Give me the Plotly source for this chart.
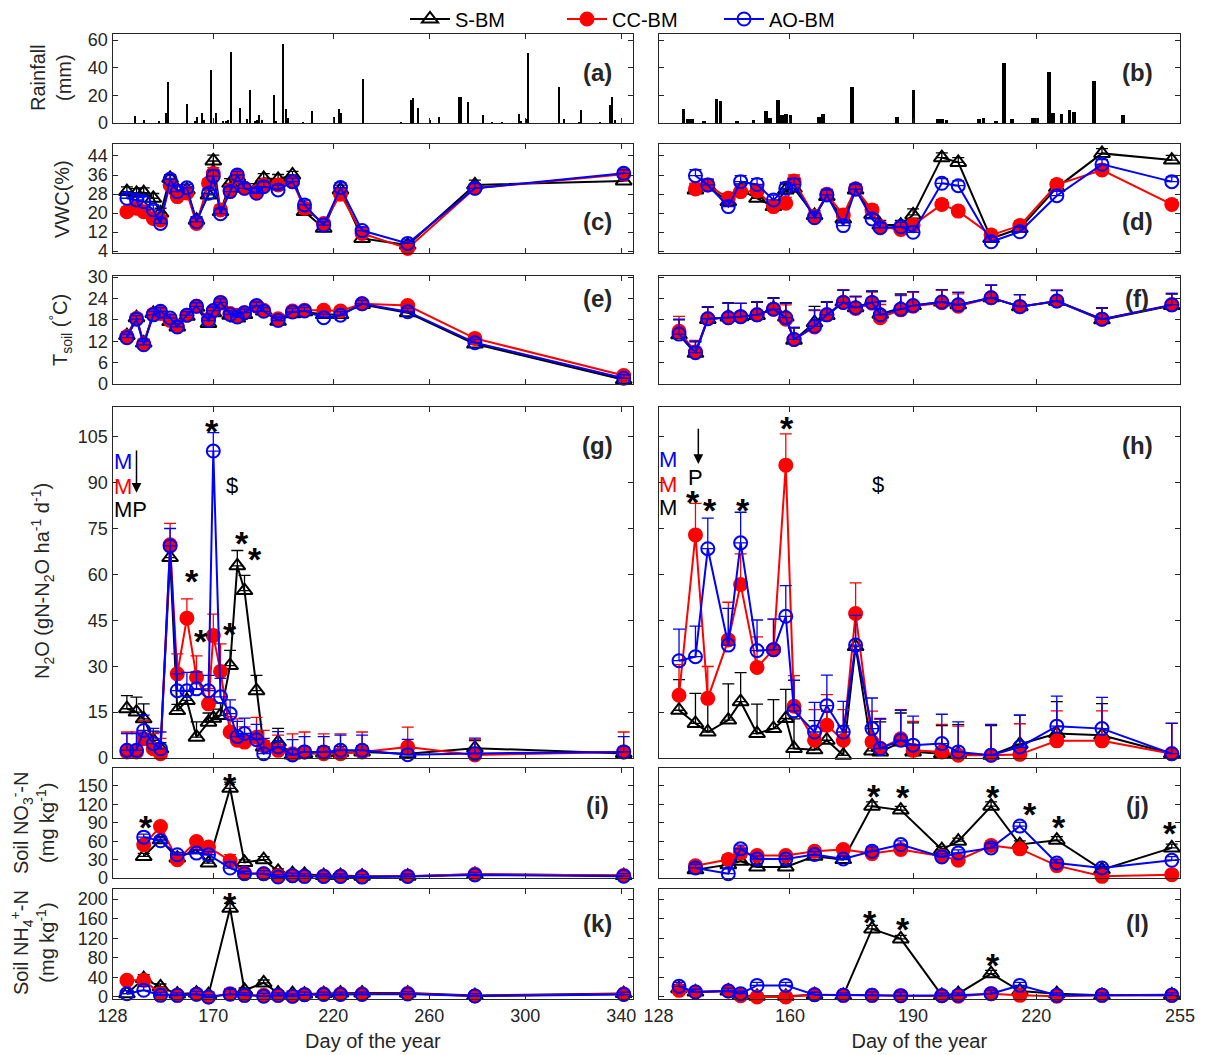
import plotly.graph_objects as go
from plotly.subplots import make_subplots

FONT = "Liberation Sans, Arial, sans-serif"
AX = "#262626"
W, H = 1206, 1055

# ---------------- data ----------------
# rainfall (mm)
rain_left_day = [137, 141, 147, 150, 151, 159, 162, 163, 165, 166, 169, 171, 174, 175, 176, 177, 181, 184, 185,
                 187, 188, 189, 190, 195, 196, 199, 200, 201, 207, 211, 220, 222, 223, 232, 248, 252, 253, 255,
                 260, 264, 272, 273, 276, 282, 286, 290, 297, 298, 300, 301, 314, 316, 322, 323, 331, 335, 336, 337]
rain_left_mm = [5, 2, 1, 7, 30, 14, 1.5, 4, 7, 2.5, 38, 7, 1.5, 1.5, 2, 51.5, 11, 3, 24,
                1.5, 2.5, 5.5, 2.5, 20.6, 1.5, 57, 10.4, 3.3, 0.7, 8.5, 4, 10.4, 7.3, 31.5, 0.7, 17, 18.4, 11.2,
                2, 4.4, 19, 19, 15.5, 5.6, 0.7, 0.5, 6.3, 1.5, 3.2, 50.4, 25.7, 3.2, 0.7, 9.2, 0.7, 12.8, 19, 2]
rain_right_day = [134, 135, 136, 139, 142, 143, 147, 151, 154, 155, 157, 158, 159, 160, 167, 168, 175, 186, 190,
                  196, 197, 198, 206, 207, 210, 212, 214, 219, 220, 223, 224, 226, 228, 229, 234, 241]
rain_right_mm = [10, 3.2, 3.2, 1.5, 17.2, 15.8, 1.2, 2.4, 8.5, 3.6, 16.5, 5.6, 6.8, 6, 4.4, 6.3, 25.7, 4.4, 23.8,
                 3.2, 2.7, 2.2, 2.7, 3.6, 1.5, 43.2, 3.2, 3.9, 3.9, 37, 7.3, 6.8, 9.2, 8, 30.5, 5.6]

# left column (first season) sampling days
dayL = [134, 138, 141, 145, 148, 152, 155, 159, 163, 168, 170, 173, 177, 180, 183, 188, 191, 197, 203, 208,
        216, 223, 232, 251, 279, 341]
vwcL_S = [29, 28.3, 28.6, 26.2, 20, 34.6, 29.7, 29.7, 17, 27.6, 41.9, 20.6, 32.5, 35.2, 30.4, 30.4, 34.6, 34.2,
          36, 20.6, 13.6, 29.7, 9.3, 6.5, 31.8, 33.5]
vwcL_C = [20.5, 22, 20.5, 17.7, 17, 31.8, 26.9, 28.4, 15.6, 32.5, 36.6, 21.3, 29.7, 35.2, 30.4, 29, 31.8, 31.8,
          33.2, 22, 15.6, 27.9, 11.4, 5.1, 30.4, 36.3]
vwcL_A = [26.2, 25.5, 24.8, 21.3, 15.6, 34.2, 29, 30.6, 16.3, 28.3, 35.5, 19.7, 29, 36, 30.4, 28.3, 31.1, 29.7,
          33.2, 23.4, 14.9, 30.7, 12.6, 7.2, 30.4, 36.7]
vwcL_err = [2, 2, 2, 2, 2, 1.5, 2, 1.5, 1.5, 2, 2.5, 2, 2, 1.5, 2, 2, 2, 2, 1.5, 2, 1.5, 2, 1.5, 1.5, 2, 1.5]

tsL_S = [13.6, 18.6, 11.5, 19.8, 20, 17.5, 16, 19, 21.5, 17, 20, 22.2, 19.3, 18.5, 19.5, 21.5, 20.5, 17.6, 19.7,
         20.3, 19.5, 19.5, 22.3, 20, 11.2, 1.2]
tsL_C = [13.3, 18.4, 11.3, 19.6, 19.8, 17.8, 16.2, 19.3, 21.8, 18.2, 20.5, 22.7, 19.8, 19.3, 20, 21.8, 20.7, 18.3,
         20.5, 20.7, 20.7, 20.5, 22.5, 22, 12.8, 2.4]
tsL_A = [13, 18.2, 11, 19.4, 20.4, 18.5, 16, 19.3, 21.8, 17.8, 20.6, 22.9, 19.5, 18.8, 20, 22, 20.4, 17.8, 20.2,
         20.5, 18.6, 19.3, 22.5, 20.3, 11.6, 1.6]
tsL_err = [1, 1, 1, 1, 1, 1, 1, 1, 1, 1, 1, 1, 1, 1, 1, 1, 1, 1, 1, 1, 1, 1, 1, 1, 1, 1]

n2oL_S = [16.1, 15, 12.8, 5.8, 3, 65.5, 15.5, 18.8, 6.8, 11.7, 13, 13.9, 30.2, 62.8, 54.7, 22, 3.6, 5.2, 1, 1.4,
          1.6, 1.8, 2, 1.4, 3.2, 1.5]
n2oL_C = [2, 2, 6.3, 3, 1.4, 69.7, 27.5, 45.7, 26.4, 17.7, 40, 28.3, 8.5, 5.8, 5.2, 6.8, 4, 2.5, 1.4, 2, 1.4,
          1.4, 2, 3.6, 1, 2]
n2oL_A = [2.5, 2.5, 9, 4.7, 3, 69.3, 22, 22, 22.6, 22, 100.3, 20, 14.5, 7, 8, 6, 1.4, 3.6, 1, 2, 2, 2.5, 2.5,
          1.1, 1.5, 2]
n2oL_S_err = [4.3, 4.9, 4.9, 3, 2, 3, 2, 3, 5, 3, 3, 4, 5, 5, 5, 5, 2, 4.5, 2, 2, 2, 2, 2, 2, 2.5, 2]
n2oL_C_err = [6.5, 6.5, 6, 5, 5, 7, 6.5, 6.3, 7, 5, 7, 9, 5, 7, 5, 6.5, 5, 5, 6.5, 6.5, 6.5, 6.5, 6.5, 6.5, 5, 6.5]
n2oL_A_err = [5.5, 5.5, 5, 5, 5.5, 5.7, 5.5, 6, 5.5, 5, 6, 6, 4.5, 5, 5, 5, 5, 5, 5, 5, 5, 5, 5, 5, 5, 5]

dayL_no3 = [141, 148, 155, 163, 168, 177, 183, 191, 197, 203, 208, 216, 223, 232, 251, 279, 341]
no3L_S = [35.2, 62.3, 32.5, 46, 24.4, 146.2, 25.4, 29.8, 10.8, 7, 6, 4, 4, 3, 3, 6, 4]
no3L_C = [54.1, 84, 29.8, 59.6, 50.4, 28.2, 8.1, 7, 3.8, 3.8, 2.7, 3, 3, 2, 3, 6, 4]
no3L_A = [66.6, 60.6, 37.9, 40.6, 37.9, 16.2, 7, 7, 1.6, 3.8, 2.7, 2.5, 2.5, 1.5, 2.5, 5, 3]
no3L_err = [5, 5, 4, 5, 5, 10, 4, 5, 4, 4, 4, 4, 4, 4, 4, 4, 4]

dayL_nh4 = [134, 141, 148, 155, 163, 168, 177, 183, 191, 197, 203, 208, 216, 223, 232, 251, 279, 341]
nh4L_S = [6.8, 37.5, 20.5, 6, 8, 4.8, 181, 13.7, 28.7, 8, 6.8, 6, 7, 8, 8, 8, 3, 7]
nh4L_C = [34, 34, 6.8, 3.4, 5.5, 0, 6.8, 3.4, 3.4, 3.4, 1.4, 4.8, 6, 6, 6, 7, 2, 6]
nh4L_A = [6.8, 13.7, 3.4, 3.4, 5.5, 0, 5.5, 3.4, 1.4, 3.4, 1.4, 4.8, 5, 5, 5, 6, 2, 5]
nh4L_err = [6, 8, 6, 5, 6, 5, 10, 5, 6, 5, 5, 5, 5, 5, 5, 5, 5, 5]

# right column (second season)
dayR = [133, 137, 140, 145, 148, 152, 156, 159, 161, 166, 169, 173, 176, 180, 182, 187, 190, 197, 201, 209,
        216, 225, 236, 253]
tsR_S = [13.8, 8.6, 18.1, 18.8, 18.9, 19.2, 21.2, 18.8, 12.3, 17.2, 19.2, 23, 21.4, 23, 19.6, 21.3, 22, 23,
         22.2, 24.2, 21.7, 23.2, 18, 22]
tsR_C = [14.8, 9, 18.3, 18.6, 18.9, 19.4, 21, 18.2, 12.5, 16, 19.4, 22.9, 21.2, 22.7, 18.6, 20.8, 21.8, 22.8,
         21.8, 24.2, 21.7, 23.3, 18.2, 22.2]
tsR_A = [14, 8.8, 18.3, 18.6, 18.9, 19.4, 21, 18.6, 12.5, 16.2, 19.4, 22.9, 21.4, 22.9, 19.4, 21, 22, 23, 22.2,
         24.2, 21.7, 23.3, 18.2, 22.2]
tsR_err = [4.2, 3.2, 3.4, 4, 3.7, 3.7, 3, 4, 3.4, 4.6, 3.7, 3.4, 3.2, 3.1, 3.7, 4, 3.9, 3.5, 3.5, 3.5, 3.4, 3,
           3.2, 3.2]

dayR_vwc = [137, 140, 145, 148, 152, 156, 159, 161, 166, 169, 173, 176, 180, 182, 187, 190, 197, 201, 209, 216,
            225, 236, 253]
vwcR_S = [29.7, 31.1, 24.8, 29.7, 26.2, 22.7, 29.7, 30.4, 19, 26.9, 17.5, 29.7, 19.4, 14.9, 14.9, 19.2, 43.3,
          41.3, 9.3, 13.5, 30.7, 45.1, 42.3]
vwcR_C = [30.1, 31.8, 26.2, 29, 29.3, 22.7, 24.1, 33.5, 18.5, 27.9, 19.2, 30.2, 21.3, 14.2, 13.1, 14.9, 23.6,
          20.8, 10.7, 14.7, 32, 38.1, 23.6]
vwcR_A = [35.7, 31.8, 22.7, 33.2, 32, 25.5, 30.4, 32, 18, 27.6, 14.7, 30, 17.5, 13.8, 14.2, 11.9, 32.5, 31.5,
          7.9, 12.1, 27.3, 40.5, 33.2]
vwcR_err = [2.5, 2.5, 2, 2.5, 2.5, 2, 2.5, 2.5, 2, 2, 2, 2, 2, 2, 2, 2.5, 2, 2, 2, 2, 2, 2, 2]

n2oR_S = [15.6, 11.3, 8.5, 12.4, 18.4, 8.0, 9.6, 12.9, 3.1, 2.7, 5.8, 0.9, 36.4, 2.3, 2.0, 5.2, 2.0, 1.4, 1.4,
          0.9, 4.5, 8, 7.4, 1.4]
n2oR_C = [20.5, 72.9, 19.5, 38.6, 56.7, 29.6, 35.4, 95.7, 16.9, 5.8, 10.7, 5.8, 47.2, 5.3, 3.1, 6.3, 2.5, 2, 0.9,
          0.9, 1.2, 5.6, 5.6, 1.4]
n2oR_A = [31.8, 33.1, 68.4, 36.9, 70.3, 35.1, 35.4, 46.3, 15.4, 8.5, 17.1, 8.5, 36.9, 9.6, 3.1, 5.8, 4.2, 4.7, 2,
          0.9, 3.6, 10.4, 9.6, 1.4]
n2oR_S_err = [10, 9.8, 10, 11.8, 9.5, 9.6, 9.5, 9.5, 9.7, 9.5, 9.5, 9.6, 9.5, 9.5, 9.8, 9.5, 9.5, 9.2, 9.5, 9.7,
              9.5, 10.4, 10.4, 9.9]
n2oR_C_err = [10, 10.3, 10.4, 12.3, 10, 10, 10, 10.2, 10, 10, 10, 10, 10, 10, 9.5, 9.5, 9.5, 9, 9.5, 10, 10, 9.8,
              9.8, 9.9]
n2oR_A_err = [10.3, 10, 10, 12, 10, 10, 10, 10, 10, 9.7, 10, 10, 9.7, 10, 9.8, 9.8, 9.5, 9.6, 9.8, 10.1, 10.4,
              9.8, 10.2, 9.9]

dayR_no3 = [137, 145, 148, 152, 159, 166, 173, 180, 187, 197, 201, 209, 216, 225, 236, 253]
no3R_S = [13.6, 21.8, 27.3, 18, 18, 35.5, 30, 117, 110.7, 46.4, 60, 117, 54.5, 61.6, 13.6, 49.1]
no3R_C = [20, 30, 41, 36.5, 36.5, 43.6, 46.4, 39.8, 46.4, 35.5, 28.9, 52.9, 47.5, 20.2, 2.7, 5.5]
no3R_A = [16.4, 7, 47.5, 31, 31, 38.2, 31, 43.6, 54.5, 34.4, 40.9, 49.1, 84.6, 24.5, 16.4, 28.9]
no3R_err = [6, 8, 6, 5, 5, 5, 5, 7, 6, 5, 5, 7, 6, 6, 5, 6]

dayR_nh4 = [133, 137, 145, 148, 152, 159, 166, 173, 180, 187, 197, 201, 209, 216, 225, 236, 253]
nh4R_S = [17, 10.2, 12.2, 3.4, 1.4, 1.4, 4.7, 3.4, 139, 118.6, 3.4, 6.8, 47.5, 12.2, 6.8, 3.4, 4.5]
nh4R_C = [13.6, 10.2, 12.2, 2.7, 0, 0, 4.7, 3.4, 3.4, 2.7, 2.7, 1.4, 6.8, 3.4, 1.4, 3.4, 3.4]
nh4R_A = [21.7, 10.2, 12.2, 6.8, 23.7, 23.7, 4.7, 3.4, 3.4, 2.7, 2.7, 3.4, 6.8, 23.7, 3.4, 3.4, 3.4]
nh4R_err = [8, 6, 6, 5, 6, 6, 5, 5, 7, 7, 5, 5, 7, 6, 5, 5, 5]

series_names = ["S-BM", "CC-BM", "AO-BM"]
left_ticks = [128, 170, 220, 260, 300, 340]
right_ticks = [128, 160, 190, 220, 255]

# ---------------- figure ----------------
fig = make_subplots(rows=6, cols=2)

STYLE = {
    "S-BM": dict(color="black", symbol="triangle-up-open", size=14),
    "CC-BM": dict(color="#ff0000", symbol="circle", size=13),
    "AO-BM": dict(color="#0000ff", symbol="circle-open", size=13),
}


def add_series(row, col, x, ys, errs, legend=False):
    for name, y, e in zip(series_names, ys, errs):
        st = STYLE[name]
        fig.add_trace(go.Scatter(
            x=x, y=y, mode="lines+markers", name=name, legendgroup=name, showlegend=legend,
            line=dict(color=st["color"], width=2),
            marker=dict(symbol=st["symbol"], size=st["size"], color=st["color"],
                        line=dict(color=st["color"], width=2)),
            error_y=dict(type="data", symmetric=False, array=e, arrayminus=[0] * len(e),
                         color=st["color"], thickness=1.3, width=6),
            cliponaxis=False,
        ), row=row, col=col)


fig.add_trace(go.Bar(x=rain_left_day, y=rain_left_mm, width=0.9, marker=dict(color="black", line=dict(width=0)),
                     showlegend=False), row=1, col=1)
fig.add_trace(go.Bar(x=rain_right_day, y=rain_right_mm, width=0.9, marker=dict(color="black", line=dict(width=0)),
                     showlegend=False), row=1, col=2)

add_series(2, 1, dayL, [vwcL_S, vwcL_C, vwcL_A], [vwcL_err, vwcL_err, vwcL_err], legend=True)
add_series(2, 2, dayR_vwc, [vwcR_S, vwcR_C, vwcR_A], [vwcR_err, vwcR_err, vwcR_err])
add_series(3, 1, dayL, [tsL_S, tsL_C, tsL_A], [tsL_err, tsL_err, tsL_err])
add_series(3, 2, dayR, [tsR_S, tsR_C, tsR_A], [tsR_err, tsR_err, tsR_err])
add_series(4, 1, dayL, [n2oL_S, n2oL_C, n2oL_A], [n2oL_S_err, n2oL_C_err, n2oL_A_err])
add_series(4, 2, dayR, [n2oR_S, n2oR_C, n2oR_A], [n2oR_S_err, n2oR_C_err, n2oR_A_err])
add_series(5, 1, dayL_no3, [no3L_S, no3L_C, no3L_A], [no3L_err, no3L_err, no3L_err])
add_series(5, 2, dayR_no3, [no3R_S, no3R_C, no3R_A], [no3R_err, no3R_err, no3R_err])
add_series(6, 1, dayL_nh4, [nh4L_S, nh4L_C, nh4L_A], [nh4L_err, nh4L_err, nh4L_err])
add_series(6, 2, dayR_nh4, [nh4R_S, nh4R_C, nh4R_A], [nh4R_err, nh4R_err, nh4R_err])

rows_px = [(34, 123), (144, 253), (276, 384), (407, 758), (768, 878), (889, 999)]
x_px = {1: (112.5, 633.3), 2: (658.5, 1180)}
y_ranges = [[0, 64.4], [3.16, 49.05], [0, 30.3], [0, 114.7], [0, 179.3], [-4.1, 220.4]]
y_ticks = [[0, 20, 40, 60], [4, 12, 20, 28, 36, 44], [0, 6, 12, 18, 24, 30],
           [0, 15, 30, 45, 60, 75, 90, 105], [0, 30, 60, 90, 120, 150], [0, 40, 80, 120, 160, 200]]
x_ranges = {1: [128, 345], 2: [128, 255]}
x_ticks = {1: left_ticks, 2: right_ticks}

common = dict(showline=True, linecolor=AX, linewidth=1, mirror="ticks", ticks="inside", ticklen=5,
              tickcolor=AX, tickwidth=1, showgrid=False, zeroline=False, automargin=False,
              tickfont=dict(family=FONT, size=18, color=AX))
lay = {}
for r in range(1, 7):
    for c in (1, 2):
        n = (r - 1) * 2 + c
        xk = "xaxis" if n == 1 else f"xaxis{n}"
        yk = "yaxis" if n == 1 else f"yaxis{n}"
        t, b = rows_px[r - 1]
        l, rr = x_px[c]
        lay[xk] = dict(common, domain=[l / W, rr / W], range=x_ranges[c], tickmode="array",
                       tickvals=x_ticks[c], ticktext=[str(v) for v in x_ticks[c]],
                       showticklabels=(r == 6))
        lay[yk] = dict(common, domain=[1 - b / H, 1 - t / H], range=y_ranges[r - 1], tickmode="array",
                       tickvals=y_ticks[r - 1], ticktext=[str(v) for v in y_ticks[r - 1]],
                       showticklabels=(c == 1))
        if r == 6:
            lay[xk]["title"] = dict(text="Day of the year", font=dict(family=FONT, size=20, color=AX), standoff=9)
fig.update_layout(**lay)

ann = []


def text(xref, yref, x, y, s, size=20, color="black", bold=False, yshift=0, xanchor="center"):
    ann.append(dict(xref=xref, yref=yref, x=x, y=y, text=(f"<b>{s}</b>" if bold else s), showarrow=False,
                    font=dict(family=FONT, size=size, color=color), xanchor=xanchor, yanchor="middle",
                    yshift=yshift))


def ytitle(xpx, ypx, s):
    ann.append(dict(xref="paper", yref="paper", x=xpx / W, y=1 - ypx / H, text=s, showarrow=False,
                    textangle=-90, font=dict(family=FONT, size=20, color=AX), xanchor="center",
                    yanchor="middle"))


ytitle(51, 78, "Rainfall<br>(mm)")
ytitle(62, 199, "VWC(%)")
ytitle(60, 330, "T<sub>soil</sub> (<sup>°</sup>C)")
ytitle(42, 581, "N<sub>2</sub>O (gN-N<sub>2</sub>O ha<sup>-1</sup> d<sup>-1</sup>)")
ytitle(32, 823, "Soil NO<sub>3</sub><sup>-</sup>-N<br>(mg kg<sup>-1</sup>)")
ytitle(32, 943, "Soil NH<sub>4</sub><sup>+</sup>-N<br>(mg kg<sup>-1</sup>)")

labels = ["(a)", "(b)", "(c)", "(d)", "(e)", "(f)", "(g)", "(h)", "(i)", "(j)", "(k)", "(l)"]
label_y = [72, 72, 221, 221, 298, 298, 445, 445, 805, 805, 923, 923]
for i, lab in enumerate(labels):
    xc = 597 if i % 2 == 0 else 1137
    ann.append(dict(xref="paper", yref="paper", x=xc / W, y=1 - label_y[i] / H, text=f"<b>{lab}</b>",
                    showarrow=False, font=dict(family=FONT, size=24, color=AX), xanchor="center",
                    yanchor="middle"))

STAR = 34
STAR_SHIFT = -8
# (g)
for (xx, yy) in [(169.3, 109.4), (161, 60.6), (164.9, 41), (177, 43.2), (181.9, 72.9), (187.3, 67.7)]:
    text("x7", "y7", xx, yy, "*", size=STAR, yshift=STAR_SHIFT, bold=True)
text("x7", "y7", 177.7, 88.9, "$", size=22)
text("x7", "y7", 132.2, 97, "M", size=22, color="#0000ff")
text("x7", "y7", 132.2, 88.8, "M", size=22, color="#ff0000")
text("x7", "y7", 135.3, 81.2, "MP", size=22, color="black")
ann.append(dict(xref="x7", yref="y7", axref="x7", ayref="y7", x=138, y=86.7, ax=138, ay=101, text="",
                showarrow=True, arrowhead=2, arrowsize=1.3, arrowwidth=1.5, arrowcolor="black"))
# (h)
for (xx, yy) in [(136.5, 86.2), (140.5, 83.5), (148.5, 83.5), (159.3, 110.3)]:
    text("x8", "y8", xx, yy, "*", size=STAR, yshift=STAR_SHIFT, bold=True)
text("x8", "y8", 181.5, 89.5, "$", size=22)
text("x8", "y8", 130.4, 97.7, "M", size=22, color="#0000ff")
text("x8", "y8", 130.4, 89.5, "M", size=22, color="#ff0000")
text("x8", "y8", 130.4, 81.8, "M", size=22, color="black")
text("x8", "y8", 137.1, 91.7, "P", size=22, color="black")
ann.append(dict(xref="x8", yref="y8", axref="x8", ayref="y8", x=137.7, y=96.1, ax=137.7, ay=108.1, text="",
                showarrow=True, arrowhead=2, arrowsize=1.3, arrowwidth=1.5, arrowcolor="black"))
# (i)
for (xx, yy) in [(141.8, 95.7), (177, 165)]:
    text("x9", "y9", xx, yy, "*", size=STAR, yshift=STAR_SHIFT, bold=True)
# (j)
for (xx, yy) in [(180.5, 147), (187.6, 145.7), (209.5, 145.7), (218.5, 117), (225.5, 95.5), (252.6, 85.6)]:
    text("x10", "y10", xx, yy, "*", size=STAR, yshift=STAR_SHIFT, bold=True)
# (k)
text("x11", "y11", 177, 206, "*", size=STAR, yshift=STAR_SHIFT, bold=True)
# (l)
for (xx, yy) in [(179.6, 169.5), (187.6, 156), (209.5, 81.4)]:
    text("x12", "y12", xx, yy, "*", size=STAR, yshift=STAR_SHIFT, bold=True)

fig.update_layout(
    annotations=ann,
    width=W, height=H,
    margin=dict(l=0, r=0, t=0, b=0, autoexpand=False),
    paper_bgcolor="white", plot_bgcolor="white",
    font=dict(family=FONT, size=18, color=AX),
    showlegend=True,
    legend=dict(orientation="h", x=405 / W, xanchor="left", y=1 - 19 / H, yanchor="middle",
                font=dict(family=FONT, size=20, color="black"), entrywidth=102, entrywidthmode="pixels",
                bgcolor="rgba(0,0,0,0)", itemwidth=40),
    bargap=0,
)

fig.write_html("out.html", config={"displayModeBar": False},
               post_script="document.body.style.margin='0';document.body.style.overflow='hidden';")
